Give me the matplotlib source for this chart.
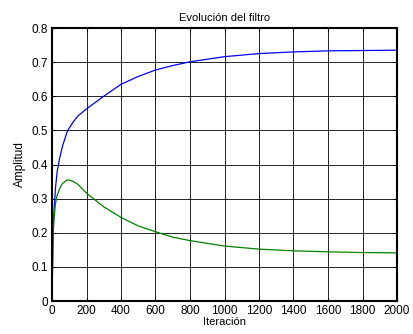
import numpy as np
import matplotlib.pyplot as plt

plt.rcParams['font.family'] = ['Liberation Sans', 'DejaVu Sans']

it = [0, 5, 10, 20, 30, 45, 60, 85, 95, 125, 150, 200, 300, 400, 500, 600,
      700, 800, 1000, 1200, 1400, 1600, 1800, 2000]
w1 = [0, 0.15, 0.25, 0.33, 0.38, 0.42, 0.452, 0.492, 0.503, 0.526, 0.542,
      0.563, 0.60, 0.635, 0.658, 0.677, 0.690, 0.701, 0.716, 0.725, 0.730,
      0.733, 0.734, 0.735]
w2 = [0, 0.17, 0.23, 0.285, 0.31, 0.33, 0.344, 0.354, 0.355, 0.35, 0.342,
      0.316, 0.276, 0.245, 0.220, 0.203, 0.187, 0.177, 0.161, 0.152, 0.147,
      0.144, 0.142, 0.141]

fig = plt.figure(figsize=(4.14, 3.34), dpi=100)
ax = fig.add_axes([52/414, 1 - 301/334, 345/414, 273/334])

ax.plot(it, w1, color='#0000ff', lw=0.9)
ax.plot(it, w2, color='#008000', lw=0.9)

ax.set_xlim(0, 2000)
ax.set_ylim(0, 0.8)
ax.set_xticks(np.arange(0, 2001, 200))
ax.set_yticks(np.arange(0, 0.81, 0.1))
ax.set_yticklabels(['0', '0.1', '0.2', '0.3', '0.4', '0.5', '0.6', '0.7', '0.8'])
ax.grid(True, color='black', lw=0.6, ls='-')
ax.tick_params(direction='in', top=True, right=True, labelsize=8.5, length=3, pad=3)
for s in ax.spines.values():
    s.set_linewidth(1.5)

ax.set_title('Evolución del filtro', fontsize=8, pad=5)
ax.set_xlabel('Iteración', fontsize=8, labelpad=0)
ax.set_ylabel('Amplitud', fontsize=8.5, labelpad=4)

fig.savefig('out.png', dpi=100)
